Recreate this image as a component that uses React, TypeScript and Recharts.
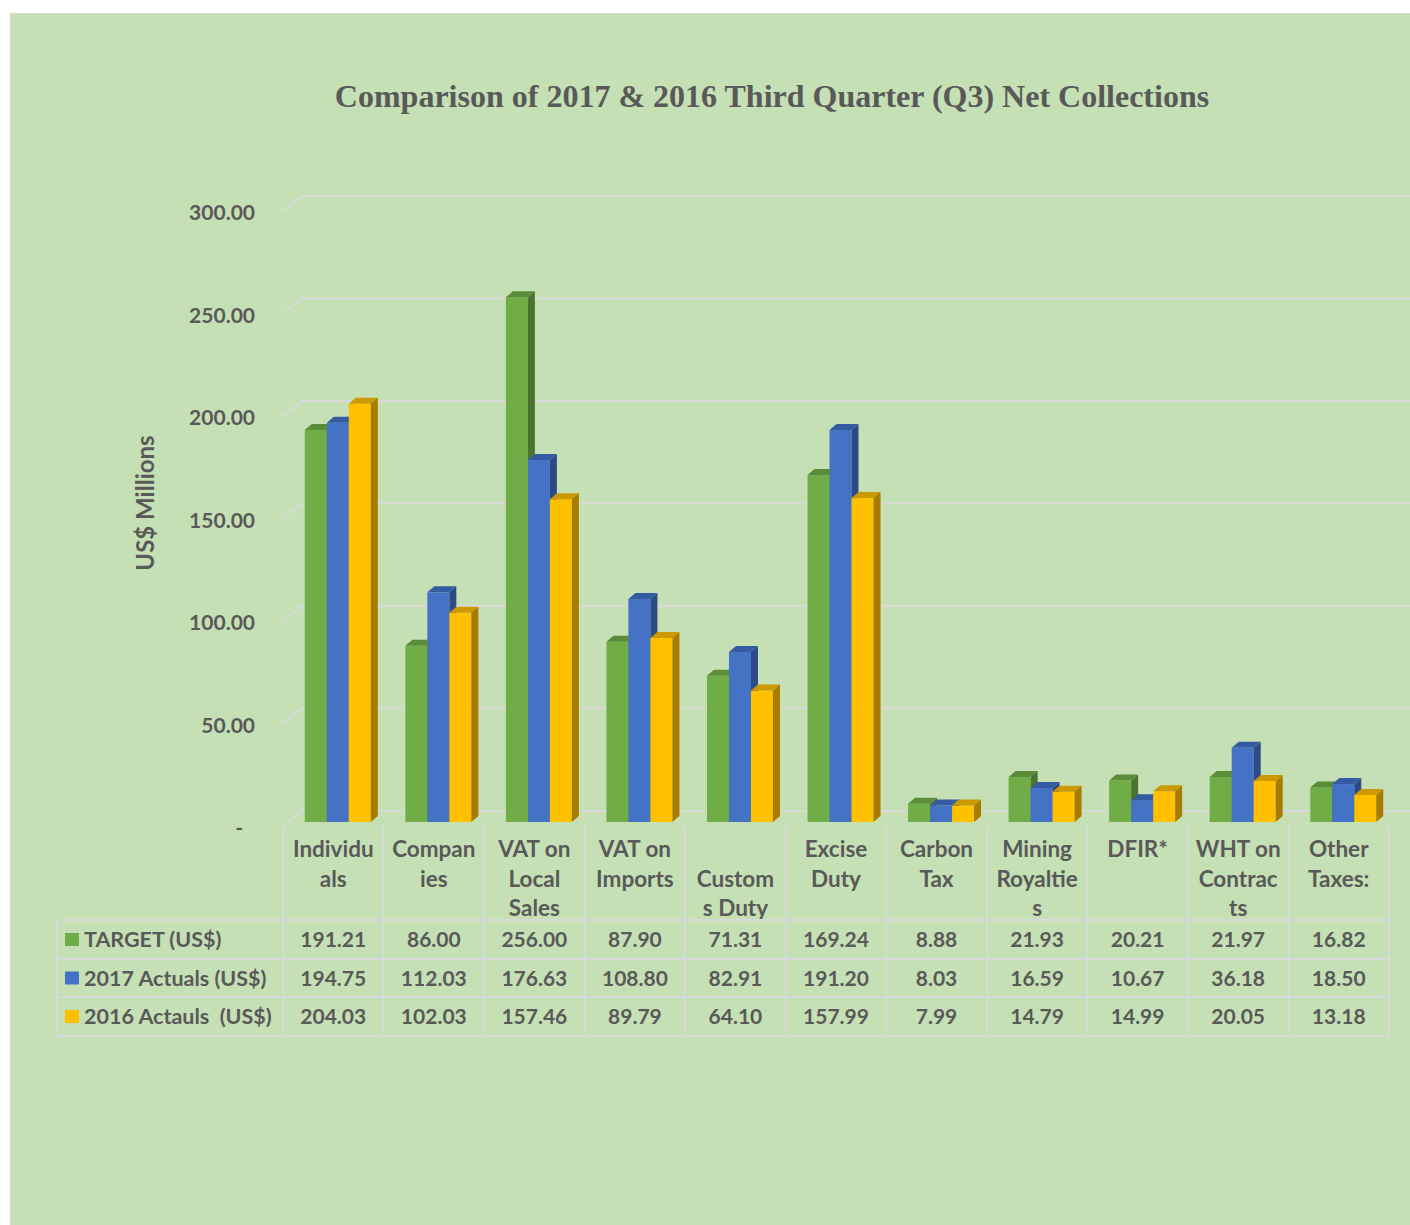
import { BarChart, Bar, XAxis, YAxis, CartesianGrid } from "recharts";

const categories = [
  "Individuals",
  "Companies",
  "VAT on Local Sales",
  "VAT on Imports",
  "Customs Duty",
  "Excise Duty",
  "Carbon Tax",
  "Mining Royalties",
  "DFIR*",
  "WHT on Contracts",
  "Other Taxes:",
];

// wrapped the way the original sheet wraps them
const categoryLines = [
  ["Individu", "als"],
  ["Compan", "ies"],
  ["VAT on", "Local", "Sales"],
  ["VAT on", "Imports"],
  ["", "Custom", "s Duty"],
  ["Excise", "Duty"],
  ["Carbon", "Tax"],
  ["Mining", "Royaltie", "s"],
  ["DFIR*"],
  ["WHT on", "Contrac", "ts"],
  ["Other", "Taxes:"],
];

const target = [191.21, 86.0, 256.0, 87.9, 71.31, 169.24, 8.88, 21.93, 20.21, 21.97, 16.82];
const actual2017 = [194.75, 112.03, 176.63, 108.8, 82.91, 191.2, 8.03, 16.59, 10.67, 36.18, 18.5];
const actual2016 = [204.03, 102.03, 157.46, 89.79, 64.1, 157.99, 7.99, 14.79, 14.99, 20.05, 13.18];

const seriesNames = ["TARGET (US$)", "2017 Actuals (US$)", "2016 Actauls  (US$)"];
const yTicks = [0, 50, 100, 150, 200, 250, 300];

const data = categories.map((name, i) => ({
  name,
  target: target[i],
  actual2017: actual2017[i],
  actual2016: actual2016[i],
}));

const W = 1410;
const H = 1225;
const PLOT_LEFT = 283;
const PLOT_RIGHT = 1389;
const PLOT_TOP = 207;
const PLOT_BOTTOM = 822;
const COL_W = (PLOT_RIGHT - PLOT_LEFT) / categories.length;

const INK = "#595959";
const LINE = "#d9d9d9";
const FONT = "Lato, 'Open Sans', sans-serif";

const palette = [
  { front: "#70ad47", top: "#5b8c39", side: "#4b7330" },
  { front: "#4472c4", top: "#355ca3", side: "#2c4b86" },
  { front: "#ffc000", top: "#cc9a00", side: "#a67d00" },
];

const rows = [target, actual2017, actual2016];
const ROW_LINES = [920, 959, 997, 1036];

const bar3D = (c: { front: string; top: string; side: string }) => (p: any) => {
  const { x, y, width, height } = p;
  if (height == null || width == null) return <g />;
  const dx = 7;
  const dy = 6;
  const x0 = x + 5;
  return (
    <g>
      <rect x={x0} y={y} width={width} height={height} fill={c.front} />
      <path
        d={`M${x0},${y} L${x0 + dx},${y - dy} L${x0 + width + dx},${y - dy} L${x0 + width},${y} Z`}
        fill={c.top}
      />
      <path
        d={`M${x0 + width},${y} L${x0 + width + dx},${y - dy} L${x0 + width + dx},${y + height - dy} L${x0 + width},${y + height} Z`}
        fill={c.side}
      />
    </g>
  );
};

const gridLine = (p: any) => {
  const y = p.y1;
  return (
    <path
      key={`grid-${y}`}
      d={`M${p.x1},${y + 4} L${p.x1 + 19},${y - 11} L${W},${y - 11}`}
      stroke={LINE}
      strokeWidth={2}
      fill="none"
    />
  );
};

const ValueTick = (p: any) => {
  const { x, y, payload } = p;
  const v = payload.value;
  return (
    <text
      x={v === 0 ? x - 40 : x - 28}
      y={y + 13}
      textAnchor="end"
      fill={INK}
      fontFamily={FONT}
      fontWeight={700}
      fontSize={21}
    >
      {v === 0 ? "-" : v.toFixed(2)}
    </text>
  );
};

const CategoryTick = (p: any) => {
  const { x, y, index } = p;
  const i = index ?? p.payload.index;
  const left = x - COL_W / 2;
  return (
    <g>
      <line x1={left} y1={y + 4} x2={left} y2={ROW_LINES[3]} stroke={LINE} strokeWidth={2} />
      {i === categories.length - 1 && (
        <line x1={left + COL_W} y1={y + 4} x2={left + COL_W} y2={ROW_LINES[3]} stroke={LINE} strokeWidth={2} />
      )}
      {categoryLines[i].map((t, k) => (
        <text
          key={k}
          x={x}
          y={y + 35 + k * 29.5}
          textAnchor="middle"
          fill={INK}
          fontFamily={FONT}
          fontWeight={700}
          fontSize={22.5}
        >
          {t}
        </text>
      ))}
      {rows.map((vals, r) => (
        <text
          key={`v${r}`}
          x={x}
          y={ROW_LINES[r] + 27}
          textAnchor="middle"
          fill={INK}
          fontFamily={FONT}
          fontWeight={700}
          fontSize={21}
        >
          {vals[i].toFixed(2)}
        </text>
      ))}
    </g>
  );
};

export default function App() {
  return (
    <div style={{ position: "absolute", left: 0, top: 0, width: W, height: H, background: "#fff" }}>
      <div
        style={{
          position: "absolute",
          left: 10,
          top: 13,
          width: W - 10,
          height: H - 13,
          background: "#c5e0b4",
          borderLeft: `1px solid ${LINE}`,
          borderTop: `1px solid ${LINE}`,
          boxSizing: "border-box",
        }}
      />
      <div style={{ position: "absolute", left: 0, top: 0 }}>
        <BarChart
          width={W}
          height={H}
          data={data}
          margin={{ top: PLOT_TOP, right: W - PLOT_RIGHT, bottom: 0, left: 0 }}
          barGap={0}
          barCategoryGap="16.7%"
        >
          <CartesianGrid vertical={false} horizontal={gridLine} />
          <YAxis
            width={PLOT_LEFT}
            domain={[0, 300]}
            ticks={yTicks}
            axisLine={false}
            tickLine={false}
            tickSize={0}
            tickMargin={0}
            tick={<ValueTick />}
          />
          <XAxis
            dataKey="name"
            height={H - PLOT_BOTTOM}
            axisLine={false}
            tickLine={false}
            tickSize={0}
            tickMargin={0}
            interval={0}
            tick={<CategoryTick />}
          />
          <Bar dataKey="target" isAnimationActive={false} shape={bar3D(palette[0])} />
          <Bar dataKey="actual2017" isAnimationActive={false} shape={bar3D(palette[1])} />
          <Bar dataKey="actual2016" isAnimationActive={false} shape={bar3D(palette[2])} />
        </BarChart>
      </div>
      <svg
        width={W}
        height={H}
        style={{ position: "absolute", left: 0, top: 0, pointerEvents: "none" }}
      >
        <text
          x={772}
          y={107}
          textAnchor="middle"
          fill={INK}
          fontFamily="'Liberation Serif', 'Times New Roman', serif"
          fontWeight={700}
          fontSize={32}
        >
          Comparison of 2017 &amp; 2016 Third Quarter (Q3) Net Collections
        </text>
        <text
          transform="translate(154,503) rotate(-90)"
          textAnchor="middle"
          fill={INK}
          fontFamily={FONT}
          fontWeight={700}
          fontSize={24}
        >
          US$ Millions
        </text>
        {ROW_LINES.map((y) => (
          <line key={y} x1={57} y1={y} x2={PLOT_RIGHT} y2={y} stroke={LINE} strokeWidth={2} />
        ))}
        <line x1={57} y1={ROW_LINES[0]} x2={57} y2={ROW_LINES[3]} stroke={LINE} strokeWidth={2} />
        {seriesNames.map((s, r) => (
          <g key={s}>
            <rect
              x={65}
              y={(ROW_LINES[r] + ROW_LINES[r + 1]) / 2 - 6.5}
              width={14}
              height={13}
              fill={palette[r].front}
            />
            <text
              x={84}
              y={ROW_LINES[r] + 27}
              fill={INK}
              fontFamily={FONT}
              fontWeight={700}
              fontSize={21.5}
              style={{ whiteSpace: "pre" }}
            >
              {s}
            </text>
          </g>
        ))}
      </svg>
    </div>
  );
}
